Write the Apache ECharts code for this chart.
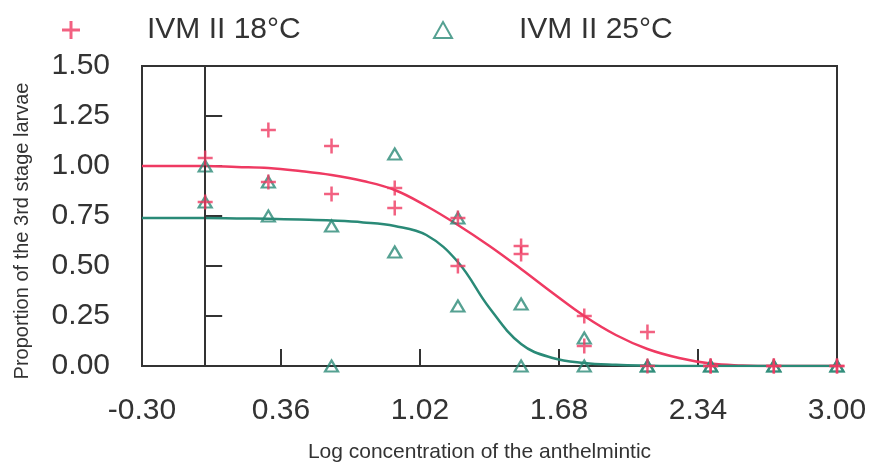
<!DOCTYPE html>
<html>
<head>
<meta charset="utf-8">
<script src="https://cdn.jsdelivr.net/npm/echarts@6/dist/echarts.min.js"></script>
<style>html,body{margin:0;padding:0;background:#fff}#c{width:878px;height:468px}</style>
</head>
<body>
<div id="c"></div>
<script>
// ---- data ----
const doses = [0, 0.3, 0.6, 0.9, 1.2, 1.5, 1.8, 2.1, 2.4, 2.7, 3.0];
const red18RepA = [1.04, 1.18, 1.10, 0.89, 0.74, 0.60, 0.25, 0.17, 0, 0, 0];
const red18RepB = [0.82, 0.92, 0.86, 0.79, 0.50, 0.56, 0.10, 0, 0, 0, 0];
const teal25RepA = [1.00, 0.92, 0.70, 1.06, 0.74, 0.31, 0.14, 0, 0, 0, 0];
const teal25RepB = [0.82, 0.75, 0, 0.57, 0.30, 0, 0, 0, 0, 0, 0];

const curveX = [-0.3, -0.15, 0, 0.15, 0.3, 0.45, 0.6, 0.75, 0.9, 1.05, 1.2, 1.35, 1.5, 1.65, 1.8, 1.95, 2.1, 2.25, 2.4, 2.55, 2.7, 2.85, 3.0];
const red18Curve = [1.00, 1.00, 1.00, 0.995, 0.99, 0.975, 0.955, 0.925, 0.88, 0.80, 0.705, 0.60, 0.485, 0.365, 0.25, 0.155, 0.085, 0.04, 0.012, 0.003, 0, 0, 0];
const teal25Curve = [0.74, 0.74, 0.74, 0.738, 0.736, 0.732, 0.727, 0.718, 0.70, 0.655, 0.52, 0.29, 0.11, 0.04, 0.015, 0.006, 0.002, 0, 0, 0, 0, 0, 0];

const xTicks = [-0.30, 0.36, 1.02, 1.68, 2.34, 3.00];
const names = ['IVM II 18°C', 'IVM II 25°C'];

// ---- styling ----
const RED = '#ef3a62';
const TEAL = '#2a8a77';
const AX = '#333';
const FONT = "'Liberation Sans', Arial, sans-serif";
const PLUS = 'path://M5,0 H7 V5 H12 V7 H7 V12 H5 V7 H0 V5 H5 Z';

const pairs = (xs, ys) => xs.map((x, i) => [x, ys[i]]);

const chart = echarts.init(document.getElementById('c'), null, {renderer: 'canvas'});
chart.setOption({
  animation: false,
  textStyle: {fontFamily: FONT},
  grid: {left: 142, right: 41, top: 66, bottom: 101, show: true, borderColor: AX, borderWidth: 2, backgroundColor: 'transparent'},
  legend: [
    {data: [names[0]], left: 57, top: 10, itemWidth: 18, itemHeight: 18, icon: PLUS,
     textStyle: {fontSize: 30, color: '#333', fontFamily: FONT, padding: [0, 0, 0, 62]}},
    {data: [names[1]], left: 428, top: 10, itemWidth: 18, itemHeight: 16, icon: 'triangle',
     itemStyle: {color: '#fff', borderColor: TEAL, borderWidth: 2},
     textStyle: {fontSize: 30, color: '#333', fontFamily: FONT, padding: [0, 0, 0, 62]}}
  ],
  xAxis: {
    type: 'value', min: -0.3, max: 3.0, interval: 0.66,
    name: 'Log concentration of the anthelmintic', nameLocation: 'middle', nameGap: 76,
    nameTextStyle: {fontSize: 21, color: '#333', padding: [0, 20, 0, 0]},
    axisLine: {show: true, lineStyle: {color: AX, width: 2}},
    axisTick: {show: true, inside: true, length: 17, lineStyle: {color: AX, width: 2}, customValues: xTicks},
    axisLabel: {fontSize: 30, color: '#333', margin: 30, customValues: xTicks, formatter: v => v.toFixed(2)},
    splitLine: {show: false}
  },
  yAxis: {
    type: 'value', min: 0, max: 1.5, interval: 0.25,
    name: 'Proportion of the 3rd stage larvae', nameLocation: 'middle', nameGap: 110,
    nameTextStyle: {fontSize: 20, color: '#333', padding: [0, 30, 0, 0]},
    axisLine: {show: true, lineStyle: {color: AX, width: 2}},
    axisTick: {show: true, inside: true, length: 17, lineStyle: {color: AX, width: 2}},
    axisLabel: {fontSize: 30, color: '#333', margin: 32, formatter: v => v.toFixed(2)},
    splitLine: {show: false}
  },
  series: [
    {name: 'fit18', type: 'line', data: pairs(curveX, red18Curve), showSymbol: false, smooth: 0.4,
     lineStyle: {color: RED, width: 2.5}, z: 2, silent: true,
     markLine: {silent: true, symbol: 'none', label: {show: false}, lineStyle: {color: AX, width: 2, type: 'solid'},
       data: [[{coord: [0, 0]}, {coord: [0, 1.5]}]]}},
    {name: 'fit25', type: 'line', data: pairs(curveX, teal25Curve), showSymbol: false, smooth: 0.4,
     lineStyle: {color: TEAL, width: 2.5}, z: 2, silent: true},
    {name: names[1], type: 'scatter', data: pairs(doses, teal25RepA).concat(pairs(doses, teal25RepB)),
     symbol: 'triangle', symbolSize: [13, 11], itemStyle: {color: 'rgba(255,255,255,0)', borderColor: TEAL, borderWidth: 2.2}, z: 4},
    {name: names[0], type: 'scatter', data: pairs(doses, red18RepA).concat(pairs(doses, red18RepB)),
     symbol: PLUS, symbolSize: 15, itemStyle: {color: RED}, z: 5}
  ]
});
</script>
</body>
</html>
